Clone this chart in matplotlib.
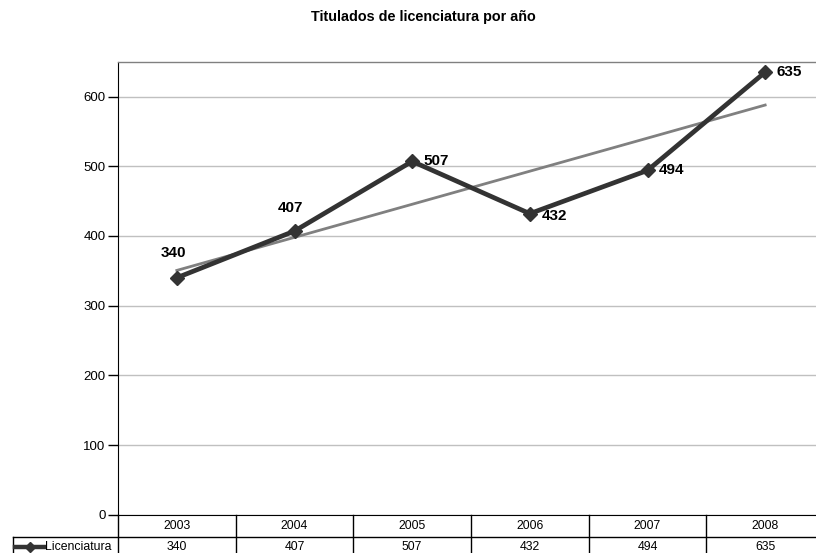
import matplotlib
matplotlib.use('Agg')
import matplotlib.pyplot as plt
import numpy as np
from matplotlib.lines import Line2D
from matplotlib.transforms import blended_transform_factory

# ---- data ----
years = ['2003', '2004', '2005', '2006', '2007', '2008']
values = [340, 407, 507, 432, 494, 635]
series_name = 'Licenciatura'
title = 'Titulados de licenciatura por año'
y_ticks = [0, 100, 200, 300, 400, 500, 600]

plt.rcParams['font.family'] = ['Liberation Sans', 'DejaVu Sans']

W, H = 816, 553
fig = plt.figure(figsize=(W / 100, H / 100), dpi=100)


def fx(px):
    return px / W


def fy(py):
    return 1 - py / H


x0, x1 = 118, 824
y_top, y_bot = 61.7, 514.7
ax = fig.add_axes([fx(x0), fy(y_bot), (x1 - x0) / W, (y_bot - y_top) / H])
x = np.arange(len(years))
ax.set_xlim(-0.5, len(years) - 0.5)
ax.set_ylim(0, 650)
ax.set_yticks(y_ticks)
ax.set_xticks([])
ax.tick_params(axis='y', direction='out', length=7, width=1, labelsize=9.5, pad=2, color='black')
ax.grid(axis='y', color='#c0c0c0', lw=1)
ax.set_axisbelow(True)
ax.spines['right'].set_visible(False)
ax.spines['top'].set_color('#808080')
ax.spines['top'].set_linewidth(1)
ax.spines['left'].set_color('black')
ax.spines['bottom'].set_color('black')

# trend line (linear fit)
coef = np.polyfit(x, values, 1)
ax.plot(x, np.polyval(coef, x), color='#808080', lw=2, zorder=2)

# main series
ax.plot(x, values, color='#333333', lw=3.4, marker='D', markersize=7,
        markerfacecolor='#333333', markeredgecolor='#333333', zorder=3)

# data labels (offsets in pixels)
offsets = [(-3, 25, 'center'), (-4, 23, 'center'), (11, 0, 'left'),
           (12, -2, 'left'), (11, 0, 'left'), (11, 0, 'left')]
for xi, v, (dx, dy, ha) in zip(x, values, offsets):
    ax.annotate(str(v), (xi, v), xytext=(dx, dy), textcoords='offset pixels',
                ha=ha, va='center', fontsize=11, fontweight='bold', color='black', zorder=4)

# title
fig.text(fx(423.7), fy(17.5), title, ha='center', va='center', fontsize=10.4, fontweight='bold')

# ---- data table ----
tr = blended_transform_factory(ax.transData, fig.transFigure)
r0, r1, r2 = 514.7, 536.7, 559
lc = '#000000'
# horizontal line between rows
fig.add_artist(Line2D([fx(12.7), fx(x1)], [fy(r1), fy(r1)], color=lc, lw=1))
# left border of legend cell
fig.add_artist(Line2D([fx(12.7), fx(12.7)], [fy(r1), fy(r2)], color=lc, lw=1))
# vertical column lines
for b in np.arange(len(years) + 1) - 0.5:
    ax.add_artist(Line2D([b, b], [fy(r0), fy(r2)], transform=tr, color=lc, lw=1, clip_on=False))
for xi, yr, v in zip(x, years, values):
    ax.text(xi, fy((r0 + r1) / 2), yr, transform=tr, ha='center', va='center', fontsize=8.8)
    ax.text(xi, fy(547), str(v), transform=tr, ha='center', va='center', fontsize=8.8)

# legend key
ky = fy(546.7)
fig.add_artist(Line2D([fx(14.5), fx(44)], [ky, ky], color='#333333', lw=3.2))
fig.add_artist(Line2D([fx(29.5)], [ky], marker='D', markersize=5.5, color='#333333', lw=0))
fig.text(fx(45), fy(547), series_name, ha='left', va='center', fontsize=8.8)

fig.savefig('out.png', dpi=100)
